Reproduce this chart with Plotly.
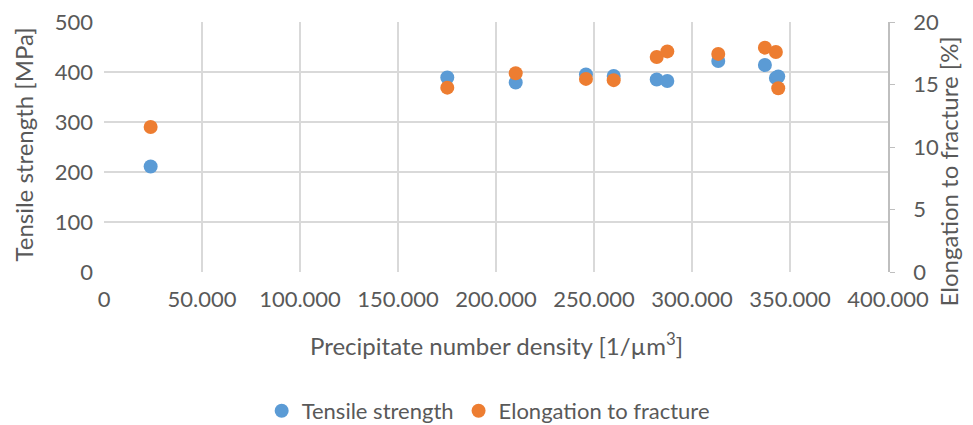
import plotly.graph_objects as go

# Precipitate number density [1/um^3] for each sample
density = [23800, 175150, 210050, 245900, 260050, 282000, 287400, 313400, 337200, 342800, 344000]
# Tensile strength [MPa]
tensile = [211, 389, 379, 395, 392, 385, 382, 422, 414, 388, 391]
# Elongation to fracture [%]
elongation = [11.6, 14.75, 15.9, 15.45, 15.35, 17.2, 17.65, 17.45, 17.95, 17.6, 14.7]

FONT = "Lato"
TXT = "#595959"
GRID = "#d9d9d9"

fig = go.Figure()

fig.add_trace(go.Scatter(
    x=density, y=tensile, mode="markers", name="Tensile strength",
    marker=dict(color="#5B9BD5", size=14),
))
fig.add_trace(go.Scatter(
    x=density, y=elongation, mode="markers", name="Elongation to fracture",
    marker=dict(color="#ED7D31", size=14), yaxis="y2",
))

# page body adds an 8px offset, margins compensate for it
fig.update_layout(
    width=973, height=425,
    margin=dict(l=96, r=93, t=14, b=161),
    paper_bgcolor="white", plot_bgcolor="white",
    separators=",.",
    font=dict(family=FONT, size=22, color=TXT),
    xaxis=dict(
        range=[0, 400000], dtick=50000, tickformat=",d", automargin=False,
        showgrid=True, gridcolor=GRID, gridwidth=1.5, zeroline=False,
        showline=False, ticks="", ticklabelstandoff=12, ticklabeloverflow="allow",
    ),
    yaxis=dict(
        range=[0, 500], dtick=100, automargin=False,
        showgrid=True, gridcolor=GRID, gridwidth=1.5, zeroline=False,
        showline=False, ticks="", ticklabelstandoff=10, ticklabeloverflow="allow",
    ),
    yaxis2=dict(
        range=[0, 20], dtick=5, overlaying="y", side="right", automargin=False,
        showgrid=False, zeroline=False,
        showline=True, linecolor="#bfbfbf", linewidth=1.5,
        ticks="outside", ticklen=5, tickcolor="#bfbfbf", ticklabelstandoff=14,
        ticklabeloverflow="allow",
    ),
    legend=dict(
        orientation="h", x=0.49, xanchor="center",
        yref="container", y=0.052, yanchor="middle",
        font=dict(size=22, color=TXT), itemwidth=30,
    ),
    annotations=[
        dict(text="Tensile strength [MPa]", x=0, y=0.51, xref="paper", yref="paper",
             xshift=-81, xanchor="center", yanchor="middle", textangle=-90,
             showarrow=False, font=dict(size=24)),
        dict(text="Elongation to fracture [%]", x=1, y=0.4, xref="paper", yref="paper",
             xshift=76, xanchor="right", yanchor="middle", textangle=-90,
             showarrow=False, font=dict(size=24)),
        dict(text="Precipitate number density [1/µm<sup>3</sup>]", x=0.5, y=0,
             xref="paper", yref="paper", yshift=-72, xanchor="center", yanchor="middle",
             showarrow=False, font=dict(size=24)),
    ],
)

fig.write_html("out.html")
